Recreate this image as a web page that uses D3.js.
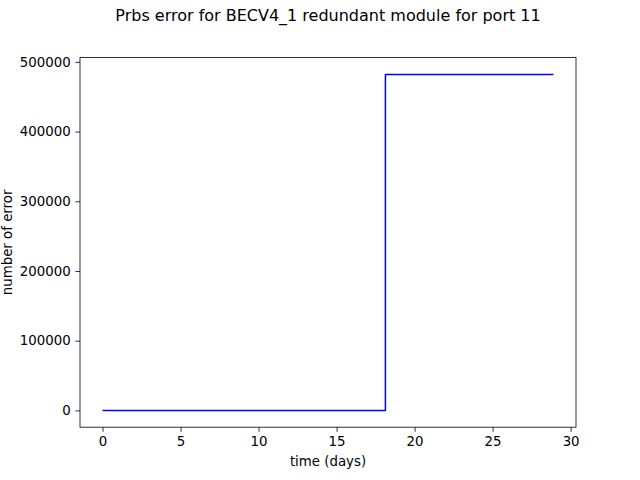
<!DOCTYPE html>
<html>
<head>
<meta charset="utf-8">
<script src="https://cdn.jsdelivr.net/npm/d3@7"></script>
<style>
  html, body { margin: 0; padding: 0; background: #fff; }
  svg { display: block; }
  text { font-family: "DejaVu Sans", sans-serif; fill: #000; }
</style>
</head>
<body>
<script>
// ---- data ----
const timeDays = [0, 18.13, 18.13, 28.9];
const errorCount = [0, 0, 482000, 482000];
const xTicks = [0, 5, 10, 15, 20, 25, 30];
const yTicks = [0, 100000, 200000, 300000, 400000, 500000];
const titleText = "Prbs error for BECV4_1 redundant module for port 11";
const xLabel = "time (days)";
const yLabel = "number of error";

(function () {
const W = 640, H = 480;
const mLeft = 80, mRight = 576, mTop = 57.6, mBottom = 427.2;

const svg = d3.select("body").append("svg").attr("width", W).attr("height", H);

const xMin = d3.min(timeDays), xMax = d3.max(timeDays);
const yMin = d3.min(errorCount), yMax = d3.max(errorCount);
const xPad = (xMax - xMin) * 0.05, yPad = (yMax - yMin) * 0.05;

const x = d3.scaleLinear().domain([xMin - xPad, xMax + xPad]).range([mLeft, mRight]);
const y = d3.scaleLinear().domain([yMin - yPad, yMax + yPad]).range([mBottom, mTop]);

const tickLen = 4.67, tickPad = 4.67;

// line
svg.append("path")
  .datum(timeDays.map((t, i) => [t, errorCount[i]]))
  .attr("fill", "none")
  .attr("stroke", "#0000ff")
  .attr("stroke-width", 1.5)
  .attr("stroke-linejoin", "round")
  .attr("d", d3.line().x(d => x(d[0])).y(d => y(d[1])));

// axes
const xAxis = d3.axisBottom(x).tickValues(xTicks).tickSize(tickLen).tickPadding(tickPad).tickFormat(d3.format("d"));
const yAxis = d3.axisLeft(y).tickValues(yTicks).tickSize(tickLen).tickPadding(tickPad).tickFormat(d3.format("d"));

const gx = svg.append("g").attr("transform", `translate(0,${mBottom})`).call(xAxis);
const gy = svg.append("g").attr("transform", `translate(${mLeft},0)`).call(yAxis);
[gx, gy].forEach(g => {
  g.select(".domain").remove();
  g.selectAll(".tick line").attr("stroke", "#000").attr("stroke-width", 0.8);
  g.selectAll(".tick text").attr("font-size", "13.33px").attr("font-family", "DejaVu Sans, sans-serif").attr("fill", "#000");
});

// frame
svg.append("rect")
  .attr("x", mLeft).attr("y", mTop)
  .attr("width", mRight - mLeft).attr("height", mBottom - mTop)
  .attr("fill", "none").attr("stroke", "#000").attr("stroke-width", 0.8);

// labels
svg.append("text")
  .attr("x", (mLeft + mRight) / 2).attr("y", 466)
  .attr("text-anchor", "middle").attr("font-size", "13.33px")
  .text(xLabel);

svg.append("text")
  .attr("transform", `translate(11.5,${(mTop + mBottom) / 2}) rotate(-90)`)
  .attr("text-anchor", "middle").attr("font-size", "13.33px")
  .text(yLabel);

svg.append("text")
  .attr("x", (mLeft + mRight) / 2).attr("y", 21)
  .attr("text-anchor", "middle").attr("font-size", "16px")
  .text(titleText);
})();
</script>
</body>
</html>
